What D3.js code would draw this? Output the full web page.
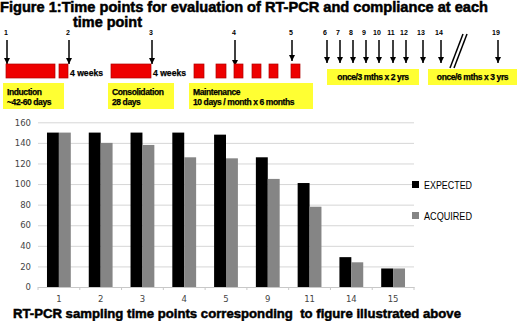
<!DOCTYPE html>
<html>
<head>
<meta charset="utf-8">
<script src="https://cdn.jsdelivr.net/npm/d3@7/dist/d3.min.js"></script>
<style>
  body { margin: 0; background: #fff; }
  svg { display: block; }
</style>
</head>
<body>
<div id="chart"></div>
<script>
// chart data
var categories = ["1", "2", "3", "4", "5", "9", "11", "14", "15"];
var expected = [150, 150, 150, 150, 148, 126, 101, 29, 18];
var acquired = [150, 140, 138, 126, 125, 105, 78, 24, 18];
var seriesNames = ["EXPECTED", "ACQUIRED"];
var yTicks = [0, 20, 40, 60, 80, 100, 120, 140, 160];

// schematic labels
var pointLabels = ["1", "2", "3", "4", "5", "6", "7", "8", "9", "10", "11", "12", "13", "14", "19"];
var phaseLabels = [
    ["Induction", "~42-60 days"],
    ["Consolidation", "28 days"],
    ["Maintenance", "10 days / month x 6 months"]
];
var followLabels = ["once/3 mths x 2 yrs", "once/6 mths x 3 yrs"];

var W = 520, H = 321;
var svg = d3.select("#chart").append("svg")
    .attr("width", W)
    .attr("height", H);

svg.append("defs").append("marker")
    .attr("id", "arr")
    .attr("viewBox", "0 0 10 10")
    .attr("refX", 10).attr("refY", 5)
    .attr("markerWidth", 6).attr("markerHeight", 6)
    .attr("markerUnits", "userSpaceOnUse")
    .attr("orient", "auto")
    .append("path").attr("d", "M0,0 L10,5 L0,10 z").attr("fill", "#000");

var boldFont = "'Liberation Sans', Arial, sans-serif";

function heavy(sel, sw) {
    return sel.attr("font-family", boldFont).attr("font-weight", "bold")
        .attr("stroke", "#000").attr("stroke-width", sw);
}

// ---- title ----
heavy(svg.append("text"), 0.5)
    .attr("x", 0).attr("y", 12)
    .attr("font-size", 14)
    .attr("textLength", 488).attr("lengthAdjust", "spacingAndGlyphs")
    .text("Figure 1:Time points for evaluation of RT-PCR and compliance at each");
heavy(svg.append("text"), 0.5)
    .attr("x", 73).attr("y", 27)
    .attr("font-size", 14)
    .attr("textLength", 69).attr("lengthAdjust", "spacingAndGlyphs")
    .text("time point");

// ---- schematic ----
var arrowX = [7, 69, 152, 235, 292, 327, 340, 353, 366, 379, 393, 406, 423, 441, 498];
var arrowEnd = [64, 64, 64, 66, 61, 63, 63, 63, 63, 63, 63, 63, 63, 63, 63];

var diag = svg.append("g");

diag.selectAll(".plab")
    .data(pointLabels)
    .enter().append("text")
    .attr("x", function (d, i) { return arrowX[i] + (i < 5 ? -1 : -2); })
    .attr("y", 35)
    .attr("text-anchor", "middle")
    .attr("font-family", boldFont).attr("font-weight", "bold")
    .attr("font-size", 7)
    .text(function (d) { return d; });

diag.selectAll(".arrow")
    .data(pointLabels)
    .enter().append("line")
    .attr("x1", function (d, i) { return arrowX[i]; })
    .attr("x2", function (d, i) { return arrowX[i]; })
    .attr("y1", 40)
    .attr("y2", function (d, i) { return arrowEnd[i]; })
    .attr("stroke", "#000").attr("stroke-width", 1.5)
    .attr("marker-end", "url(#arr)");

// double slash
[0, 4].forEach(function (off) {
    diag.append("line")
        .attr("x1", 450 + off).attr("y1", 68)
        .attr("x2", 463 + off).attr("y2", 34)
        .attr("stroke", "#000").attr("stroke-width", 1.5);
});

// red blocks
var redBlocks = [[6, 55], [59, 68], [111, 151], [194, 204], [216, 226], [234, 243], [252, 261], [269, 278], [291, 300]];
diag.selectAll(".red")
    .data(redBlocks)
    .enter().append("rect")
    .attr("x", function (d) { return d[0]; })
    .attr("y", 64)
    .attr("width", function (d) { return d[1] - d[0]; })
    .attr("height", 14)
    .attr("fill", "#ee0000")
    .attr("stroke", "#b00000").attr("stroke-width", 0.7);

[70, 153].forEach(function (x) {
    heavy(diag.append("text"), 0.25)
        .attr("x", x).attr("y", 76)
        .attr("font-size", 8.5)
        .attr("textLength", 33).attr("lengthAdjust", "spacingAndGlyphs")
        .text("4 weeks");
});

// yellow phase boxes
var phaseBox = [[3, 64], [108, 174], [189, 313]];
phaseLabels.forEach(function (lines, i) {
    var b = phaseBox[i];
    diag.append("rect")
        .attr("x", b[0]).attr("y", 83)
        .attr("width", b[1] - b[0]).attr("height", 26)
        .attr("fill", "#ffff33");
    lines.forEach(function (t, j) {
        heavy(diag.append("text"), 0.25)
            .attr("x", b[0] + 4).attr("y", 95 + j * 10)
            .attr("font-size", 8.5)
            .attr("letter-spacing", -0.4)
            .text(t);
    });
});

var followBox = [[327, 419], [428, 517]];
followLabels.forEach(function (t, i) {
    var b = followBox[i];
    diag.append("rect")
        .attr("x", b[0]).attr("y", 69)
        .attr("width", b[1] - b[0]).attr("height", 16)
        .attr("fill", "#ffff33");
    heavy(diag.append("text"), 0.25)
        .attr("x", (b[0] + b[1]) / 2).attr("y", 80)
        .attr("text-anchor", "middle")
        .attr("font-size", 8.5)
        .attr("letter-spacing", -0.4)
        .text(t);
});

// ---- bar chart ----
var plotLeft = 38, plotRight = 414, plotTop = 122.3, plotBottom = 287;

var x0 = d3.scaleBand()
    .domain(categories)
    .range([plotLeft, plotRight])
    .paddingInner(0.43)
    .paddingOuter(0.215);
var x1 = d3.scaleBand()
    .domain(seriesNames)
    .range([0, x0.bandwidth()]);
var y = d3.scaleLinear()
    .domain([0, 160])
    .range([plotBottom, plotTop]);
var color = d3.scaleOrdinal()
    .domain(seriesNames)
    .range(["#000000", "#858585"]);

var chart = svg.append("g");

chart.append("g")
    .attr("transform", "translate(" + plotLeft + ",0)")
    .call(d3.axisLeft(y).tickValues(yTicks).tickSize(-(plotRight - plotLeft)).tickPadding(7))
    .call(function (g) {
        g.select(".domain").remove();
        g.selectAll(".tick line").attr("stroke", "#d6d6d6");
        g.selectAll(".tick text")
            .attr("font-family", "'DejaVu Sans', sans-serif")
            .attr("font-size", 8.5).attr("fill", "#444");
    });

var rows = categories.map(function (c, i) {
    return {cat: c, values: [expected[i], acquired[i]]};
});

var groups = chart.selectAll(".grp")
    .data(rows)
    .enter().append("g")
    .attr("transform", function (d) { return "translate(" + x0(d.cat) + ",0)"; });

groups.selectAll("rect")
    .data(function (d) {
        return seriesNames.map(function (s, j) { return {name: s, value: d.values[j]}; });
    })
    .enter().append("rect")
    .attr("x", function (d) { return x1(d.name); })
    .attr("width", x1.bandwidth())
    .attr("y", function (d) { return y(d.value); })
    .attr("height", function (d) { return plotBottom - y(d.value); })
    .attr("fill", function (d) { return color(d.name); });

var xAxis = d3.axisBottom(x0).tickSize(0).tickPadding(9);
chart.append("g")
    .attr("transform", "translate(0," + plotBottom + ")")
    .call(xAxis)
    .call(function (g) {
        g.select(".domain").attr("stroke", "#c8c8c8");
        g.selectAll(".tick text")
            .attr("font-family", "'DejaVu Sans', sans-serif")
            .attr("font-size", 8.5).attr("fill", "#444");
    });

// small ticks at band edges
chart.selectAll(".edge")
    .data(d3.range(categories.length + 1))
    .enter().append("line")
    .attr("x1", function (i) { return plotLeft + i * x0.step(); })
    .attr("x2", function (i) { return plotLeft + i * x0.step(); })
    .attr("y1", plotBottom).attr("y2", plotBottom + 3)
    .attr("stroke", "#c8c8c8");

// legend
var legend = chart.selectAll(".leg")
    .data(seriesNames)
    .enter().append("g")
    .attr("transform", function (d, i) { return "translate(412," + (181 + i * 31) + ")"; });
legend.append("rect")
    .attr("width", 7).attr("height", 7)
    .attr("fill", function (d) { return color(d); });
legend.append("text")
    .attr("x", 12).attr("y", 7.5)
    .attr("font-family", "'Liberation Sans', Arial, sans-serif")
    .attr("font-size", 11).attr("fill", "#000")
    .attr("textLength", 48).attr("lengthAdjust", "spacingAndGlyphs")
    .text(function (d) { return d; });

// axis title
heavy(svg.append("text"), 0.5)
    .attr("x", 13).attr("y", 318)
    .attr("font-size", 13.5)
    .attr("textLength", 448).attr("lengthAdjust", "spacingAndGlyphs")
    .attr("xml:space", "preserve")
    .text("RT-PCR sampling time points corresponding  to figure illustrated above");
</script>
</body>
</html>
